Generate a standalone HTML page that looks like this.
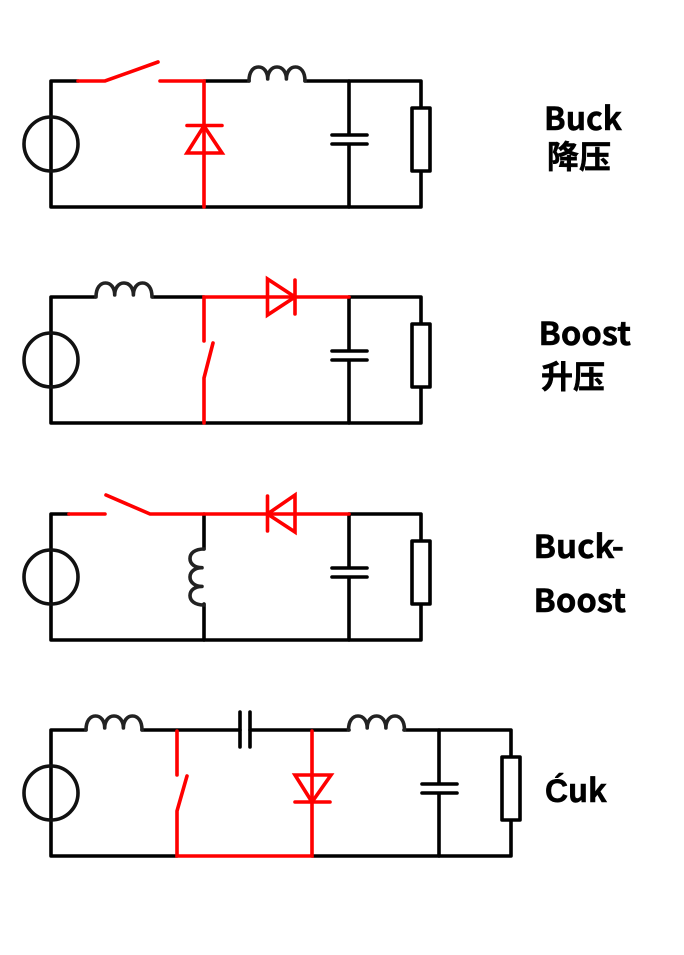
<!DOCTYPE html>
<html>
<head>
<meta charset="utf-8">
<style>
html,body{margin:0;padding:0;background:#fff;}
svg{display:block;}
text{font-family:"Noto Sans CJK SC","Liberation Sans",sans-serif;font-weight:700;font-size:32px;fill:#000;stroke:#000;stroke-width:.5px;}
.k{fill:none;stroke:#000;stroke-width:3.6;stroke-linejoin:round;stroke-linecap:round;}
.r{fill:none;stroke:#f00;stroke-width:3.6;stroke-linejoin:miter;stroke-linecap:round;}
.l{fill:none;stroke:#222;stroke-width:3.6;stroke-linejoin:round;stroke-linecap:round;}
.c{fill:none;stroke:#111;stroke-width:3.6;}
</style>
</head>
<body>
<svg width="684" height="955" viewBox="0 0 684 955" xmlns="http://www.w3.org/2000/svg">
<defs>
<path id="ind" d="M0 0C0 -9 4 -14 9.5 -14C15 -14 18.7 -9 18.7 -2C18.7 -9 22.5 -14 28 -14C33.5 -14 37.4 -9 37.4 -2C37.4 -9 41 -14 46.5 -14C52 -14 56 -9 56 0"/>
</defs>

<!-- Buck -->
<path class="k" d="M78 81H51V207H421V81H305M249 81H204"/>
<circle class="c" cx="51" cy="144" r="27"/>
<use href="#ind" class="l" transform="translate(249,81)"/>
<path class="k" d="M349 81V135M332 135H367M332 144H367M349 144V207"/>
<rect class="k" x="412" y="108" width="18" height="63" style="fill:#fff"/>
<path class="r" d="M78 81H105L158 62M160 81H204V207"/>
<path class="r" d="M204 126L187 153H222ZM187 125.500H222"/>

<!-- Boost -->
<path class="k" d="M204 297H51V423H421V297H349"/>
<circle class="c" cx="51" cy="360" r="27"/>
<path d="M96 297H152" stroke="#fff" stroke-width="5"/>
<use href="#ind" class="l" transform="translate(96,297)"/>
<path class="k" d="M349 297V351M332 351H367M332 360H367M349 360V423"/>
<rect class="k" x="412" y="324" width="18" height="63" style="fill:#fff"/>
<path class="r" d="M204 341V297H349"/>
<path class="r" d="M213 343L204 378V423"/>
<path class="r" d="M295 297L267.500 279V315ZM295 280V314"/>

<!-- Buck-Boost -->
<path class="k" d="M69 514H51V640H421V514H349"/>
<circle class="c" cx="51" cy="577" r="27"/>
<path class="k" d="M204 514V549M204 604V640"/>
<use href="#ind" class="l" transform="matrix(0 1 1 0 204 549)"/>
<path class="k" d="M349 514V568M332 568H367M332 577H367M349 577V640"/>
<rect class="k" x="412" y="541" width="18" height="63" style="fill:#fff"/>
<path class="r" d="M69 514H105M106 495L150 514H349"/>
<path class="r" d="M267.500 514L295 495V532ZM267.500 496V531"/>

<!-- Cuk -->
<path class="k" d="M86 730H51V856H177M142 730H240M250 730H349M404 730H511V856H312"/>
<circle class="c" cx="51" cy="793" r="27"/>
<use href="#ind" class="l" transform="translate(86,730)"/>
<use href="#ind" class="l" transform="translate(348.500,730)"/>
<path class="k" d="M240 712V747M250 712V747"/>
<path class="k" d="M439 730V784M422 784H457M422 793H457M439 793V856"/>
<rect class="k" x="502" y="757" width="18" height="63" style="fill:#fff"/>
<path class="r" d="M177 731V775M187 776L177 811V856H312V731"/>
<path class="r" d="M312 802L295 775H331ZM295 802H330"/>

<!-- Labels -->
<text x="544" y="130" textLength="78" lengthAdjust="spacingAndGlyphs">Buck</text>
<text x="547" y="168">降压</text>
<text x="538.500" y="345" textLength="92.500" lengthAdjust="spacingAndGlyphs">Boost</text>
<text x="541" y="388">升压</text>
<text x="533.500" y="558" textLength="90.500" lengthAdjust="spacingAndGlyphs">Buck-</text>
<text x="533.500" y="612" textLength="92.500" lengthAdjust="spacingAndGlyphs">Boost</text>
<text x="545" y="802" style="font-family:'Liberation Sans',sans-serif">Ć</text>
<text x="568" y="802" textLength="39" lengthAdjust="spacingAndGlyphs">uk</text>
</svg>
</body>
</html>
